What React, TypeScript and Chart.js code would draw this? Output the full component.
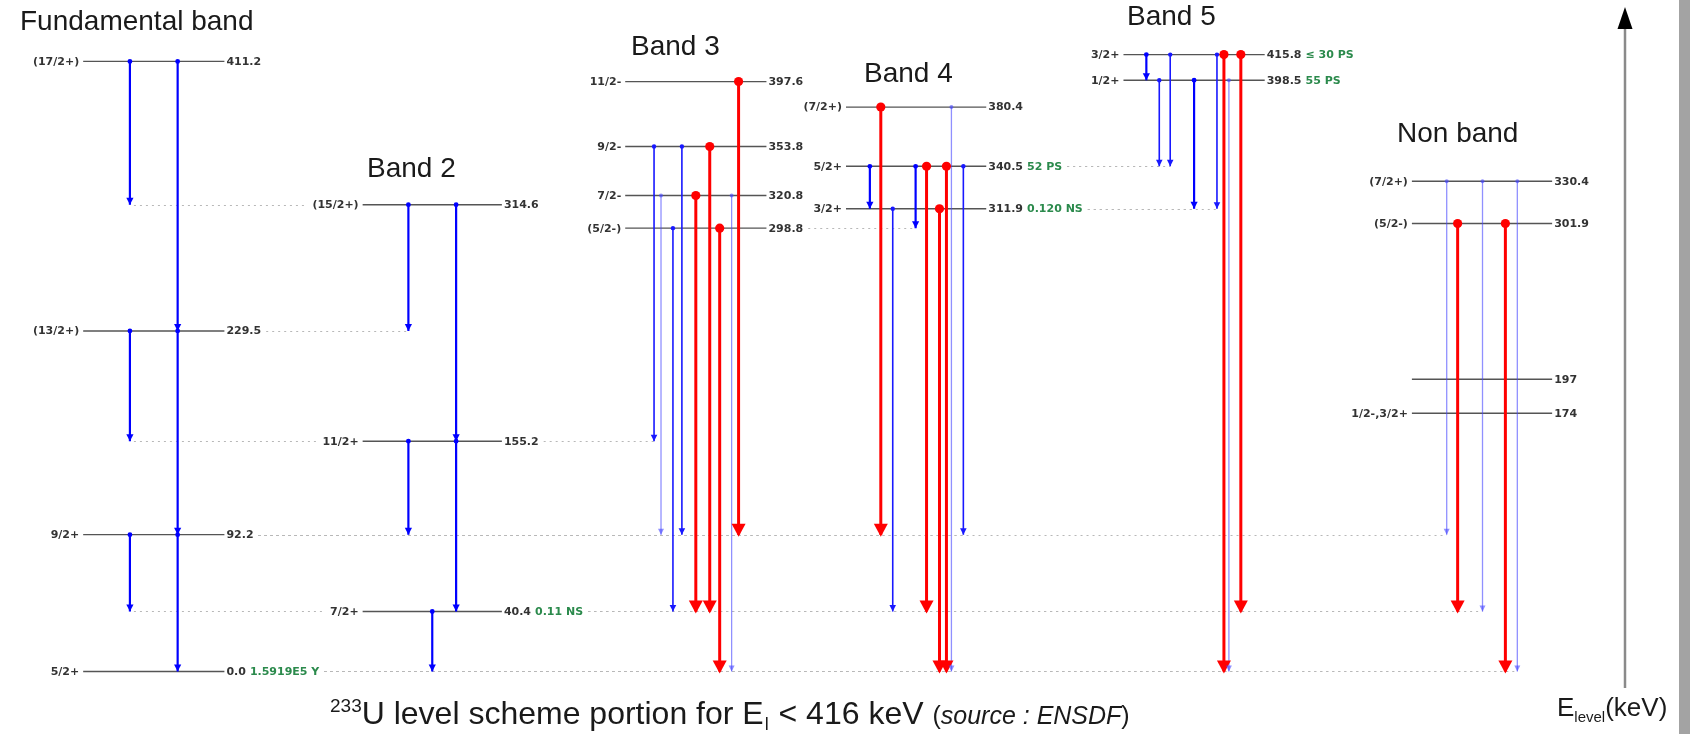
import React, { useEffect, useRef } from 'react';
import { Chart, registerables } from 'chart.js';

Chart.register(...registerables);

// ---- Level data (keV), spin/parity and half-life per band ----
const bandTitles = ['Fundamental band', 'Band 2', 'Band 3', 'Band 4', 'Band 5', 'Non band'];

const fundamentalEnergies = [0.0, 92.2, 229.5, 411.2];
const fundamentalSpins = ['5/2+', '9/2+', '(13/2+)', '(17/2+)'];
const fundamentalHalfLives = ['1.5919E5 Y', '', '', ''];

const band2Energies = [40.4, 155.2, 314.6];
const band2Spins = ['7/2+', '11/2+', '(15/2+)'];
const band2HalfLives = ['0.11 NS', '', ''];

const band3Energies = [298.8, 320.8, 353.8, 397.6];
const band3Spins = ['(5/2-)', '7/2-', '9/2-', '11/2-'];
const band3HalfLives = ['', '', '', ''];

const band4Energies = [311.9, 340.5, 380.4];
const band4Spins = ['3/2+', '5/2+', '(7/2+)'];
const band4HalfLives = ['0.120 NS', '52 PS', ''];

const band5Energies = [398.5, 415.8];
const band5Spins = ['1/2+', '3/2+'];
const band5HalfLives = ['55 PS', '\u2264 30 PS'];

const nonBandEnergies = [174, 197, 301.9, 330.4];
const nonBandSpins = ['1/2-,3/2+', '', '(5/2-)', '(7/2+)'];
const nonBandHalfLives = ['', '', '', ''];

// ---- Gamma transitions: [initial level, final level, intensity class] ----
// s = strong, m = medium, w = weak, r = dominant (red)
const fundamentalGammas = [
  [411.2, 314.6, 's'], [411.2, 229.5, 's'], [229.5, 155.2, 's'],
  [229.5, 92.2, 's'], [92.2, 40.4, 's'], [92.2, 0.0, 's'],
];
const band2Gammas = [
  [314.6, 229.5, 's'], [314.6, 155.2, 's'], [155.2, 92.2, 's'],
  [155.2, 40.4, 's'], [40.4, 0.0, 's'],
];
const band3Gammas = [
  [353.8, 155.2, 'm'], [320.8, 92.2, 'w'], [298.8, 40.4, 'm'], [353.8, 92.2, 'm'],
  [320.8, 40.4, 'r'], [353.8, 40.4, 'r'], [298.8, 0.0, 'r'], [320.8, 0.0, 'w'],
  [397.6, 92.2, 'r'],
];
const band4Gammas = [
  [340.5, 311.9, 's'], [380.4, 92.2, 'r'], [311.9, 40.4, 'm'], [340.5, 298.8, 's'],
  [340.5, 40.4, 'r'], [311.9, 0.0, 'r'], [340.5, 0.0, 'r'], [380.4, 0.0, 'w'],
  [340.5, 92.2, 'm'],
];
const band5Gammas = [
  [415.8, 398.5, 's'], [398.5, 340.5, 'm'], [415.8, 340.5, 'm'], [398.5, 311.9, 's'],
  [415.8, 311.9, 'm'], [415.8, 0.0, 'r'], [398.5, 0.0, 'w'], [415.8, 40.4, 'r'],
];
const nonBandGammas = [
  [330.4, 92.2, 'w'], [301.9, 40.4, 'r'], [330.4, 40.4, 'w'],
  [301.9, 0.0, 'r'], [330.4, 0.0, 'w'],
];

// ---- Horizontal layout of each band (x scale units) ----
const bandLeft = [79, 360, 624, 846, 1125, 1415];
const bandRight = [221, 500, 766, 987, 1267, 1556];
const bandColumns = [
  [126, 174, 126, 174, 126, 174],
  [406, 454, 406, 454, 430],
  [653, 660, 672, 681, 695, 709, 719, 731, 738],
  [870, 881, 893, 916, 927, 940, 947, 952, 964],
  [1148, 1161, 1172, 1196, 1219, 1226, 1231, 1243],
  [1450, 1461, 1486, 1509, 1521],
];
const titleAnchors = [[20, 29.5], [367, 177], [631, 55], [864, 82], [1127, 25], [1397, 142]];

// ---- Captions ----
const captionMass = '233';
const captionMain = 'U level scheme portion for E';
const captionSub = 'l';
const captionRest = ' < 416 keV ';
const captionSource = 'source : ENSDF';
const axisTitle = ['E', 'level', '(keV)'];

const bands = [
  { energies: fundamentalEnergies, spins: fundamentalSpins, halfLives: fundamentalHalfLives, gammas: fundamentalGammas },
  { energies: band2Energies, spins: band2Spins, halfLives: band2HalfLives, gammas: band2Gammas },
  { energies: band3Energies, spins: band3Spins, halfLives: band3HalfLives, gammas: band3Gammas },
  { energies: band4Energies, spins: band4Spins, halfLives: band4HalfLives, gammas: band4Gammas },
  { energies: band5Energies, spins: band5Spins, halfLives: band5HalfLives, gammas: band5Gammas },
  { energies: nonBandEnergies, spins: nonBandSpins, halfLives: nonBandHalfLives, gammas: nonBandGammas },
];

const gammaStyle: any = {
  s: { color: '#0000ff', width: 2.2, dot: 2.4, hw: 3.6, hh: 7, tip: 0 },
  m: { color: '#1818ff', width: 1.6, dot: 2.2, hw: 3.3, hh: 6.5, tip: 0 },
  w: { color: 'rgba(70,70,255,0.6)', width: 1.3, dot: 2.0, hw: 3.0, hh: 6, tip: 0 },
  r: { color: '#ff0000', width: 3, dot: 4.6, hw: 7, hh: 13, tip: 2 },
};

const LABEL_FONT = 'bold 11px "DejaVu Sans", sans-serif';
const SANS = '"Liberation Sans", Arial, sans-serif';

const energyText = (e: number) => (e === 0 || e % 1 !== 0 ? e.toFixed(1) : String(e));
const bandOfLevel = (e: number) => bands.findIndex((b) => b.energies.includes(e));

const schemePlugin = {
  id: 'levelScheme',
  beforeDatasetsDraw(chart: any) {
    const { ctx, scales } = chart;
    const xs = scales.x;
    const ys = scales.y;
    ctx.save();
    ctx.font = LABEL_FONT;
    ctx.setLineDash([2, 4]);
    ctx.strokeStyle = '#b8b8b8';
    ctx.lineWidth = 1.2;
    bands.forEach((band, bi) => {
      band.gammas.forEach((g: any, gi: number) => {
        const target = g[1];
        const tb = bandOfLevel(target);
        if (tb === bi || tb < 0) return;
        const li = bands[tb].energies.indexOf(target);
        const px = xs.getPixelForValue(bandColumns[bi][gi]);
        const y = Math.round(ys.getPixelForValue(target)) + 0.5;
        const L = xs.getPixelForValue(bandLeft[tb]);
        const R = xs.getPixelForValue(bandRight[tb]);
        ctx.beginPath();
        if (px > R) {
          let end = R + 2 + ctx.measureText(energyText(target)).width;
          const hl = bands[tb].halfLives[li];
          if (hl) end += 4 + ctx.measureText(hl).width;
          ctx.moveTo(end + 5, y);
          ctx.lineTo(px, y);
        } else if (px < L) {
          const sp = bands[tb].spins[li];
          const start = L - 4 - (sp ? ctx.measureText(sp).width : 0) - 5;
          ctx.moveTo(px + 4, y);
          ctx.lineTo(start, y);
        }
        ctx.stroke();
      });
    });
    ctx.restore();
  },
  afterDatasetsDraw(chart: any) {
    const { ctx, scales } = chart;
    const xs = scales.x;
    const ys = scales.y;
    ctx.save();

    // arrow heads at the final level of each transition
    chart.data.datasets.forEach((ds: any, i: number) => {
      if (!ds.gamma) return;
      const st = gammaStyle[ds.gamma];
      const end = chart.getDatasetMeta(i).data[1];
      const tipY = end.y + st.tip;
      ctx.fillStyle = st.color;
      ctx.beginPath();
      ctx.moveTo(end.x, tipY);
      ctx.lineTo(end.x - st.hw, tipY - st.hh);
      ctx.lineTo(end.x + st.hw, tipY - st.hh);
      ctx.closePath();
      ctx.fill();
    });

    // level labels: spin/parity left, energy and half-life right
    ctx.font = LABEL_FONT;
    ctx.textBaseline = 'middle';
    bands.forEach((band, bi) => {
      const L = xs.getPixelForValue(bandLeft[bi]);
      const R = xs.getPixelForValue(bandRight[bi]);
      band.energies.forEach((e, li) => {
        const y = ys.getPixelForValue(e) + 0.5;
        ctx.fillStyle = '#333';
        ctx.textAlign = 'right';
        if (band.spins[li]) ctx.fillText(band.spins[li], L - 4, y);
        ctx.textAlign = 'left';
        const et = energyText(e);
        ctx.fillText(et, R + 2, y);
        const hl = band.halfLives[li];
        if (hl) {
          ctx.fillStyle = '#2b8a4c';
          ctx.fillText(hl, R + 2 + ctx.measureText(et).width + 4, y);
        }
      });
    });

    // band titles
    ctx.font = `28px ${SANS}`;
    ctx.fillStyle = '#1a1a1a';
    ctx.textAlign = 'left';
    ctx.textBaseline = 'alphabetic';
    bandTitles.forEach((t, i) => ctx.fillText(t, titleAnchors[i][0], titleAnchors[i][1]));

    // energy axis with arrow
    const ax = 1625;
    ctx.strokeStyle = '#8a8a8a';
    ctx.lineWidth = 2.5;
    ctx.beginPath();
    ctx.moveTo(ax, 28);
    ctx.lineTo(ax, 688);
    ctx.stroke();
    ctx.fillStyle = '#000';
    ctx.beginPath();
    ctx.moveTo(ax, 7);
    ctx.lineTo(ax - 7.5, 29);
    ctx.lineTo(ax + 7.5, 29);
    ctx.closePath();
    ctx.fill();

    // axis title E_level(keV)
    let x = 1557;
    ctx.fillStyle = '#1a1a1a';
    ctx.font = `26px ${SANS}`;
    ctx.fillText(axisTitle[0], x, 716);
    x += ctx.measureText(axisTitle[0]).width;
    ctx.font = `15px ${SANS}`;
    ctx.fillText(axisTitle[1], x, 722);
    x += ctx.measureText(axisTitle[1]).width;
    ctx.font = `26px ${SANS}`;
    ctx.fillText(axisTitle[2], x, 716);

    // caption
    const base = 724;
    x = 330;
    ctx.font = `19px ${SANS}`;
    ctx.fillText(captionMass, x, base - 12);
    x += ctx.measureText(captionMass).width;
    ctx.font = `32px ${SANS}`;
    ctx.fillText(captionMain, x, base);
    x += ctx.measureText(captionMain).width;
    ctx.font = `18px ${SANS}`;
    ctx.fillText(captionSub, x + 1, base + 6);
    x += ctx.measureText(captionSub).width + 2;
    ctx.font = `32px ${SANS}`;
    ctx.fillText(captionRest, x, base);
    x += ctx.measureText(captionRest).width;
    ctx.font = `25px ${SANS}`;
    ctx.fillText('(', x, base);
    x += ctx.measureText('(').width;
    ctx.font = `italic 25px ${SANS}`;
    ctx.fillText(captionSource, x, base);
    x += ctx.measureText(captionSource).width;
    ctx.font = `25px ${SANS}`;
    ctx.fillText(')', x, base);

    // frame strip on the right edge
    ctx.fillStyle = '#a3a3a3';
    ctx.fillRect(chart.width - 11, 0, 11, chart.height);
    ctx.restore();
  },
};

function buildDatasets() {
  const datasets: any[] = [];
  bands.forEach((band, bi) => {
    band.energies.forEach((e) => {
      datasets.push({
        data: [{ x: bandLeft[bi], y: e }, { x: bandRight[bi], y: e }],
        borderColor: '#555',
        borderWidth: 1.4,
        pointRadius: 0,
        showLine: true,
        order: 10,
      });
    });
    band.gammas.forEach((g: any, gi: number) => {
      const st = gammaStyle[g[2]];
      const col = bandColumns[bi][gi];
      datasets.push({
        gamma: g[2],
        data: [{ x: col, y: g[0] }, { x: col, y: g[1] }],
        borderColor: st.color,
        borderWidth: st.width,
        pointRadius: [st.dot, 0],
        pointBackgroundColor: st.color,
        pointBorderWidth: 0,
        showLine: true,
        order: g[2] === 'r' ? 1 : 5,
      });
    });
  });
  return datasets;
}

export default function App() {
  const canvasRef = useRef<HTMLCanvasElement>(null);

  useEffect(() => {
    const chart = new Chart(canvasRef.current as HTMLCanvasElement, {
      type: 'scatter',
      data: { datasets: buildDatasets() },
      options: {
        animation: false,
        responsive: true,
        maintainAspectRatio: false,
        devicePixelRatio: 1,
        events: [],
        layout: { padding: 0 },
        plugins: { legend: { display: false }, tooltip: { enabled: false } },
        scales: {
          x: { type: 'linear', min: 0, max: 1690, display: false },
          y: { type: 'linear', min: -39.08, max: 449.5, display: false },
        },
      } as any,
      plugins: [schemePlugin],
    });
    return () => chart.destroy();
  }, []);

  return (
    <div style={{ position: 'fixed', left: 0, top: 0, width: 1690, height: 734, background: '#fff' }}>
      <canvas ref={canvasRef} />
    </div>
  );
}
